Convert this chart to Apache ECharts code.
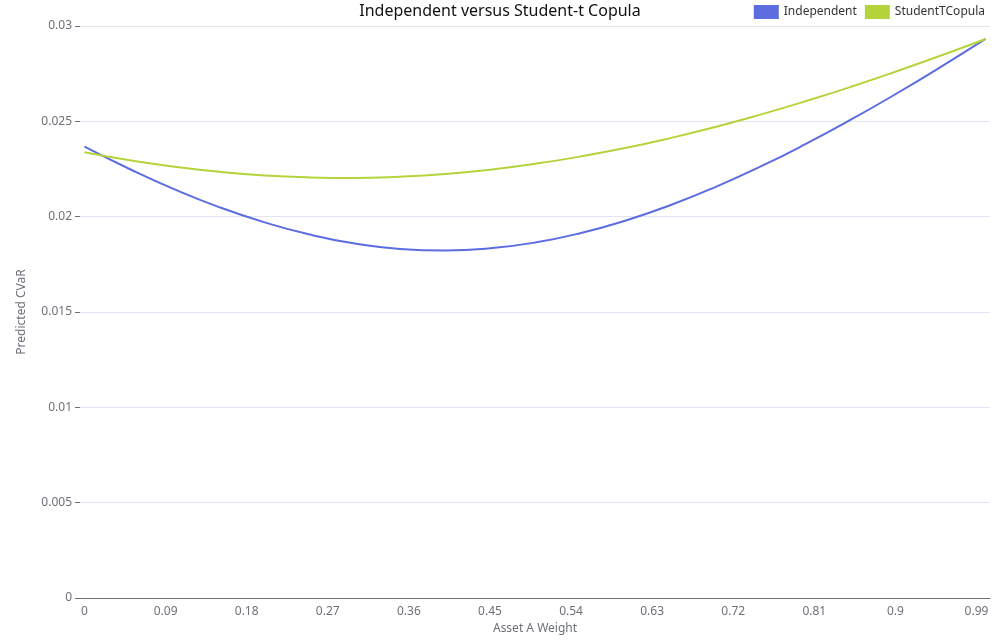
<!DOCTYPE html>
<html>
<head>
<meta charset="utf-8">
<script src="https://cdn.jsdelivr.net/npm/echarts@6/dist/echarts.min.js"></script>
<style>
html,body{margin:0;padding:0;background:#fff;}
#main{width:1000px;height:640px;}
</style>
</head>
<body>
<div id="main"></div>
<script>
// Category labels of the x axis (asset A weight, 0 to 1 in steps of 0.01)
var weights = ['0','0.01','0.02','0.03','0.04','0.05','0.06','0.07','0.08','0.09',
  '0.1','0.11','0.12','0.13','0.14','0.15','0.16','0.17','0.18','0.19',
  '0.2','0.21','0.22','0.23','0.24','0.25','0.26','0.27','0.28','0.29',
  '0.3','0.31','0.32','0.33','0.34','0.35','0.36','0.37','0.38','0.39',
  '0.4','0.41','0.42','0.43','0.44','0.45','0.46','0.47','0.48','0.49',
  '0.5','0.51','0.52','0.53','0.54','0.55','0.56','0.57','0.58','0.59',
  '0.6','0.61','0.62','0.63','0.64','0.65','0.66','0.67','0.68','0.69',
  '0.7','0.71','0.72','0.73','0.74','0.75','0.76','0.77','0.78','0.79',
  '0.8','0.81','0.82','0.83','0.84','0.85','0.86','0.87','0.88','0.89',
  '0.9','0.91','0.92','0.93','0.94','0.95','0.96','0.97','0.98','0.99','1'];

var sampleWeights = ['0','0.05','0.1','0.15','0.2','0.25','0.3','0.35','0.4','0.45',
  '0.5','0.55','0.6','0.65','0.7','0.75','0.8','0.85','0.9','0.95','1'];

var independent = [0.02367,0.02250,0.02143,0.02049,0.01970,0.01906,0.01859,0.01831,0.01823,0.01834,
  0.01864,0.01913,0.01979,0.02060,0.02155,0.02262,0.02380,0.02507,0.02642,0.02784,0.02932];

var studentT = [0.02338,0.02296,0.02262,0.02235,0.02216,0.02206,0.02203,0.02210,0.02224,0.02246,
  0.02277,0.02315,0.02360,0.02412,0.02470,0.02535,0.02605,0.02680,0.02760,0.02844,0.02932];

var yTicks = {min: 0, max: 0.03, interval: 0.005};

function pairs(vals){ return sampleWeights.map(function(w,k){ return [w, vals[k]]; }); }

var chart = echarts.init(document.getElementById('main'));
chart.setOption({
  backgroundColor: '#fff',
  textStyle: {fontFamily: 'Noto Sans, sans-serif'},
  animation: false,
  title: {
    text: 'Independent versus Student-t Copula',
    left: 'center', top: -2,
    textStyle: {fontSize: 16, fontWeight: 'normal', color: '#111', fontFamily: 'Noto Sans, sans-serif'}
  },
  legend: {
    right: 10, top: 0,
    icon: 'rect', itemWidth: 25, itemHeight: 14, itemGap: 8,
    textStyle: {fontSize: 12, color: '#333'},
    data: ['Independent', 'StudentTCopula']
  },
  grid: {left: 80, right: 10, top: 26, bottom: 42},
  xAxis: {
    type: 'category',
    data: weights,
    boundaryGap: true,
    name: 'Asset A Weight',
    nameLocation: 'middle',
    nameGap: 24,
    nameTextStyle: {color: '#6E7079', fontSize: 12},
    axisLine: {lineStyle: {color: '#6E7079'}},
    axisTick: {alignWithLabel: true, interval: 8},
    axisLabel: {interval: 8, color: '#6E7079', fontSize: 12}
  },
  yAxis: {
    type: 'value',
    min: yTicks.min, max: yTicks.max, interval: yTicks.interval,
    name: 'Predicted CVaR',
    nameLocation: 'middle',
    nameGap: 52,
    nameTextStyle: {color: '#6E7079', fontSize: 12},
    axisLine: {show: false},
    axisTick: {show: true, lineStyle: {color: '#6E7079'}},
    axisLabel: {color: '#6E7079', fontSize: 12},
    splitLine: {lineStyle: {color: '#E0E6F1'}}
  },
  series: [
    {name: 'Independent', type: 'line', data: pairs(independent), smooth: true,
     showSymbol: false, symbol: 'none', lineStyle: {width: 2, color: '#5b6ddf'}, itemStyle: {color: '#5b6ddf'}},
    {name: 'StudentTCopula', type: 'line', data: pairs(studentT), smooth: true,
     showSymbol: false, symbol: 'none', lineStyle: {width: 2, color: '#b5d43b'}, itemStyle: {color: '#b5d43b'}}
  ]
});
</script>
</body>
</html>
